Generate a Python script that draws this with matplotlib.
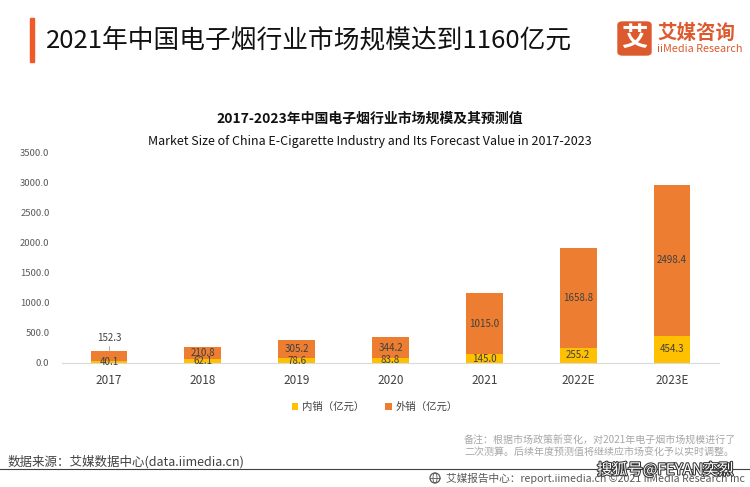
import matplotlib.pyplot as plt
import matplotlib.patheffects as pe
from matplotlib.patches import FancyBboxPatch, Rectangle, Ellipse

plt.rcParams['font.family'] = ['Noto Sans CJK SC', 'DejaVu Sans']

# data
years = ['2017', '2018', '2019', '2020', '2021', '2022E', '2023E']
domestic = [40.1, 62.1, 78.6, 83.8, 145.0, 255.2, 454.3]   # 内销
export = [152.3, 210.8, 305.2, 344.2, 1015.0, 1658.8, 2498.4]  # 外销
yticks = [0, 500, 1000, 1500, 2000, 2500, 3000, 3500]

c_dom = '#FFC000'
c_exp = '#ED7D31'
txt = '#404040'

W, H = 750, 487
fig = plt.figure(figsize=(7.5, 4.87), dpi=100)

def fx(px):
    return px / W

def fy(py):
    return 1 - py / H

# header
fig.patches.append(Rectangle((fx(30), fy(62)), fx(4), (62 - 18) / H,
                             transform=fig.transFigure, color='#F05A28'))
fig.text(fx(46), fy(40), '2021年中国电子烟行业市场规模达到1160亿元',
         fontsize=18.5, color='#111111', va='center', ha='left')

# logo
fig.patches.append(FancyBboxPatch((fx(618), fy(55)), fx(33), 33 / H,
                                  boxstyle='round,pad=0,rounding_size=0.006',
                                  transform=fig.transFigure, color='#DC5A2E'))
fig.text(fx(634.5), fy(38.5), '艾', fontsize=19, color='white', weight='bold',
         ha='center', va='center')
fig.text(fx(657), fy(33), '艾媒咨询', fontsize=14, color='#DC5A2E', weight='bold',
         ha='left', va='center')
fig.text(fx(657), fy(49), 'iiMedia Research', fontsize=7.8, color='#DC5A2E',
         ha='left', va='center')

# chart titles
fig.text(fx(370), fy(119), '2017-2023年中国电子烟行业市场规模及其预测值',
         fontsize=10, weight='bold', color='#111111', ha='center', va='center')
fig.text(fx(370), fy(141), 'Market Size of China E-Cigarette Industry and Its Forecast Value in 2017-2023',
         fontsize=9, color='#111111', ha='center', va='center')

# axes
ax = fig.add_axes([fx(62), fy(363), fx(719 - 62), (363 - 152) / H])
x = range(len(years))
ax.bar(x, domestic, width=0.39, color=c_dom, label='内销（亿元）')
ax.bar(x, export, width=0.39, bottom=domestic, color=c_exp, label='外销（亿元）')
ax.set_xlim(-0.5, len(years) - 0.5)
ax.set_ylim(0, 3500)
ax.set_yticks(yticks)
ax.set_yticklabels(['%.1f' % v for v in yticks], fontsize=6.8, color='#595959')
ax.set_xticks(list(x))
ax.set_xticklabels(years, fontsize=8.5, color='#404040')
ax.tick_params(length=0, pad=8)
ax.tick_params(axis='y', pad=9)
for s in ['top', 'right', 'left']:
    ax.spines[s].set_visible(False)
ax.spines['bottom'].set_color('#D9D9D9')

# value labels
for i in x:
    ax.text(i, domestic[i] / 2, '%.1f' % domestic[i], ha='center', va='center',
            fontsize=7, color=txt)
    if i == 0:
        top = domestic[i] + export[i]
        ax.text(i, top + 220, '%.1f' % export[i], ha='center', va='center',
                fontsize=7, color=txt)
        ax.plot([i, i], [top + 10, top + 90], color='#A6A6A6', lw=0.6)
    else:
        ax.text(i, domestic[i] + export[i] / 2, '%.1f' % export[i], ha='center',
                va='center', fontsize=7, color=txt)

# legend
leg = fig.legend(loc='center', bbox_to_anchor=(fx(375), fy(407)), ncol=2,
                 frameon=False, fontsize=7.5, handlelength=0.6, handleheight=0.6,
                 columnspacing=2.0, handletextpad=0.4)
for t in leg.get_texts():
    t.set_color(txt)

# notes
fig.text(fx(464), fy(441), '备注：根据市场政策新变化，对2021年电子烟市场规模进行了',
         fontsize=7.2, color='#A6A6A6', ha='left', va='center')
fig.text(fx(464), fy(452), '二次测算。后续年度预测值将继续应市场变化予以实时调整。',
         fontsize=7.2, color='#A6A6A6', ha='left', va='center')

fig.text(fx(8), fy(462), '数据来源：艾媒数据中心(data.iimedia.cn)',
         fontsize=9, color=txt, ha='left', va='center')
fig.lines.append(plt.Line2D([0, 1], [fy(469), fy(469)], transform=fig.transFigure,
                            color='#404040', lw=0.8))

# footer with small globe mark
fig.patches.append(Ellipse((fx(435), fy(478)), 10 / W, 10 / H, transform=fig.transFigure,
                           fill=False, edgecolor='#595959', lw=0.9))
fig.patches.append(Ellipse((fx(435), fy(478)), 4 / W, 10 / H, transform=fig.transFigure,
                           fill=False, edgecolor='#595959', lw=0.6))
fig.lines.append(plt.Line2D([fx(430), fx(440)], [fy(478), fy(478)],
                            transform=fig.transFigure, color='#595959', lw=0.6))
fig.text(fx(745), fy(478), '艾媒报告中心：report.iimedia.cn ©2021 iiMedia Research Inc',
         fontsize=7.7, color='#595959', ha='right', va='center')

# watermark
fig.text(fx(597), fy(470), '搜狐号@FEYAN奕烈', fontsize=11, color='white',
         ha='left', va='center',
         path_effects=[pe.withStroke(linewidth=1.5, foreground='#333333')])

fig.savefig('out.png', dpi=100)
